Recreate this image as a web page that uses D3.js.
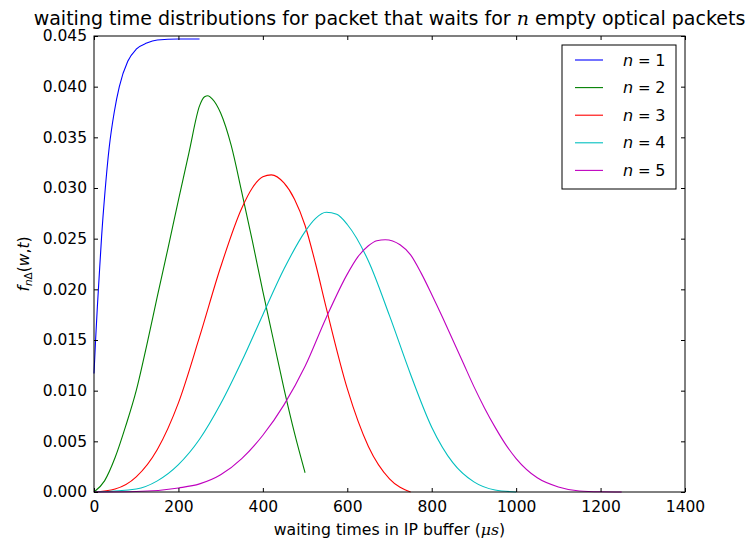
<!DOCTYPE html>
<html>
<head>
<meta charset="utf-8">
<script src="https://cdn.jsdelivr.net/npm/d3@7"></script>
<style>
  body { margin: 0; background: #fff; }
  text { font-family: "DejaVu Sans", sans-serif; }
</style>
</head>
<body>
<script>
// waiting times (us) and densities
let w1 = [0, 4, 8, 12, 18, 26, 36, 48, 60, 80, 100, 125, 150, 200, 250];
let f1 = [0.0117, 0.0152, 0.0183, 0.0211, 0.0252, 0.0296, 0.0340, 0.0375, 0.0400, 0.0425, 0.0437, 0.0443, 0.0446, 0.0447, 0.0447];

let w2 = [0, 25, 50, 75, 100, 125, 150, 175, 200, 225, 250, 262, 270, 280, 300, 325, 350, 375, 400, 425, 450, 475, 500];
let f2 = [0, 0.0011, 0.0034, 0.0065, 0.0100, 0.0145, 0.0193, 0.0240, 0.0288, 0.0335, 0.0381, 0.0390, 0.0391, 0.0388, 0.0374, 0.0342, 0.0296, 0.0248, 0.0198, 0.0150, 0.0102, 0.0058, 0.0019];

let w3 = [0, 50, 100, 150, 200, 250, 300, 350, 375, 400, 420, 450, 475, 500, 525, 550, 600, 650, 700, 750];
let f3 = [0, 0.0003, 0.0015, 0.0042, 0.0088, 0.0153, 0.0222, 0.0280, 0.0300, 0.0311, 0.0313, 0.0305, 0.0289, 0.0263, 0.0225, 0.0182, 0.0102, 0.0045, 0.0013, 0];

let w4 = [0, 100, 150, 200, 250, 300, 350, 400, 450, 500, 525, 550, 575, 600, 650, 700, 750, 800, 850, 900, 950, 1000];
let f4 = [0, 0.0003, 0.0011, 0.0027, 0.0052, 0.0087, 0.0129, 0.0175, 0.0220, 0.0257, 0.0270, 0.0276, 0.0274, 0.0264, 0.0228, 0.0174, 0.0116, 0.0064, 0.0029, 0.0010, 0.0002, 0];

let w5 = [0, 100, 200, 250, 300, 350, 400, 450, 500, 550, 600, 625, 650, 670, 690, 725, 750, 775, 800, 825, 850, 875, 900, 925, 950, 975, 1000, 1050, 1100, 1150, 1200, 1250];
let f5 = [0, 0.00005, 0.0004, 0.0008, 0.0017, 0.0033, 0.0056, 0.0086, 0.0124, 0.0172, 0.0215, 0.0232, 0.0243, 0.0248, 0.0249, 0.0244, 0.0234, 0.0216, 0.0195, 0.0173, 0.0150, 0.0127, 0.0104, 0.0083, 0.0064, 0.0047, 0.0033, 0.0014, 0.0005, 0.0001, 0.00002, 0];

let labels = ["1", "2", "3", "4", "5"];
let colors = ["#0000ff", "#008000", "#ff0000", "#00bfbf", "#bf00bf"];
let xTicks = [0, 200, 400, 600, 800, 1000, 1200, 1400];
let yTicks = [0, 0.005, 0.01, 0.015, 0.02, 0.025, 0.03, 0.035, 0.04, 0.045];

let series = [[w1, f1], [w2, f2], [w3, f3], [w4, f4], [w5, f5]]
  .map(([w, f], i) => ({ label: labels[i], color: colors[i], pts: w.map((d, j) => [d, f[j]]) }));

let width = 749, height = 540;
let margin = { top: 36, right: 64, bottom: 48, left: 94 };

let svg = d3.select("body").append("svg")
  .attr("width", width)
  .attr("height", height);

let x = d3.scaleLinear().domain([0, 1400]).range([margin.left, width - margin.right]);
let y = d3.scaleLinear().domain([0, 0.045]).range([height - margin.bottom, margin.top]);

let line = d3.line()
  .x(d => x(d[0]))
  .y(d => y(d[1]))
  .curve(d3.curveMonotoneX);

svg.append("g").selectAll("path")
  .data(series)
  .join("path")
    .attr("d", d => line(d.pts))
    .attr("fill", "none")
    .attr("stroke", d => d.color)
    .attr("stroke-width", 1.1);

// axes, ticks pointing inward on all four sides
let fs = 15.5;
let axB = svg.append("g").attr("transform", `translate(0,${y(0)})`)
  .call(d3.axisBottom(x).tickValues(xTicks).tickSize(-4).tickSizeOuter(0).tickPadding(9).tickFormat(d3.format("d")));
let axL = svg.append("g").attr("transform", `translate(${x(0)},0)`)
  .call(d3.axisLeft(y).tickValues(yTicks).tickSize(-4).tickSizeOuter(0).tickPadding(7).tickFormat(d3.format(".3f")));
let axT = svg.append("g").attr("transform", `translate(0,${y(0.045)})`)
  .call(d3.axisTop(x).tickValues(xTicks).tickSize(-4).tickSizeOuter(0).tickFormat(""));
let axR = svg.append("g").attr("transform", `translate(${x(1400)},0)`)
  .call(d3.axisRight(y).tickValues(yTicks).tickSize(-4).tickSizeOuter(0).tickFormat(""));

[axB, axL, axT, axR].forEach(a => {
  a.select(".domain").remove();
  a.selectAll("line").attr("stroke", "#000");
  a.selectAll("text").attr("font-family", "DejaVu Sans").attr("font-size", fs).attr("fill", "#000");
});

svg.append("rect")
  .attr("x", x(0)).attr("y", y(0.045))
  .attr("width", x(1400) - x(0)).attr("height", y(0) - y(0.045))
  .attr("fill", "none").attr("stroke", "#000").attr("stroke-width", 1);

// title
let title = svg.append("text")
  .attr("x", (x(0) + x(1400)) / 2).attr("y", 25)
  .attr("text-anchor", "middle").attr("font-size", 19);
title.append("tspan").text("waiting time distributions for packet that waits for ");
title.append("tspan").text("n").attr("font-family", "DejaVu Serif").attr("font-style", "italic");
title.append("tspan").text(" empty optical packets");

// x label
let xl = svg.append("text")
  .attr("x", (x(0) + x(1400)) / 2).attr("y", height - 5)
  .attr("text-anchor", "middle").attr("font-size", 15.7);
xl.append("tspan").text("waiting times in IP buffer (");
xl.append("tspan").text("μs").attr("font-family", "DejaVu Serif").attr("font-style", "italic");
xl.append("tspan").text(")");

// y label
let yl = svg.append("text")
  .attr("transform", `translate(29,${(y(0) + y(0.045)) / 2}) rotate(-90)`)
  .attr("text-anchor", "middle").attr("font-size", 15.5)
  .attr("font-family", "DejaVu Serif");
yl.append("tspan").text("f").attr("font-style", "italic");
yl.append("tspan").text("n").attr("font-style", "italic").attr("font-size", 10.5).attr("dy", 3);
yl.append("tspan").text("Δ").attr("font-size", 10.5);
yl.append("tspan").text("(").attr("dy", -3);
yl.append("tspan").text("w").attr("font-style", "italic");
yl.append("tspan").text(",");
yl.append("tspan").text("t").attr("font-style", "italic");
yl.append("tspan").text(")");

// legend
let lg = { x: 562, y: 45, w: 114, h: 144, row: 27.6 };
let legend = svg.append("g");
legend.append("rect")
  .attr("x", lg.x).attr("y", lg.y).attr("width", lg.w).attr("height", lg.h)
  .attr("fill", "#fff").attr("stroke", "#000").attr("stroke-width", 1);
let rows = legend.selectAll("g.row")
  .data(series)
  .join("g").attr("class", "row")
  .attr("transform", (d, i) => `translate(${lg.x},${lg.y + 15 + i * lg.row})`);
rows.append("line")
  .attr("x1", 13).attr("x2", 41)
  .attr("stroke", d => d.color).attr("stroke-width", 1.1);
let lt = rows.append("text")
  .attr("x", 61).attr("y", 5.5)
  .attr("font-family", "DejaVu Serif").attr("font-size", 16);
lt.append("tspan").text("n").attr("font-style", "italic");
lt.append("tspan").text(" = ").attr("font-size", 15);
lt.append("tspan").text(d => d.label);
</script>
</body>
</html>
